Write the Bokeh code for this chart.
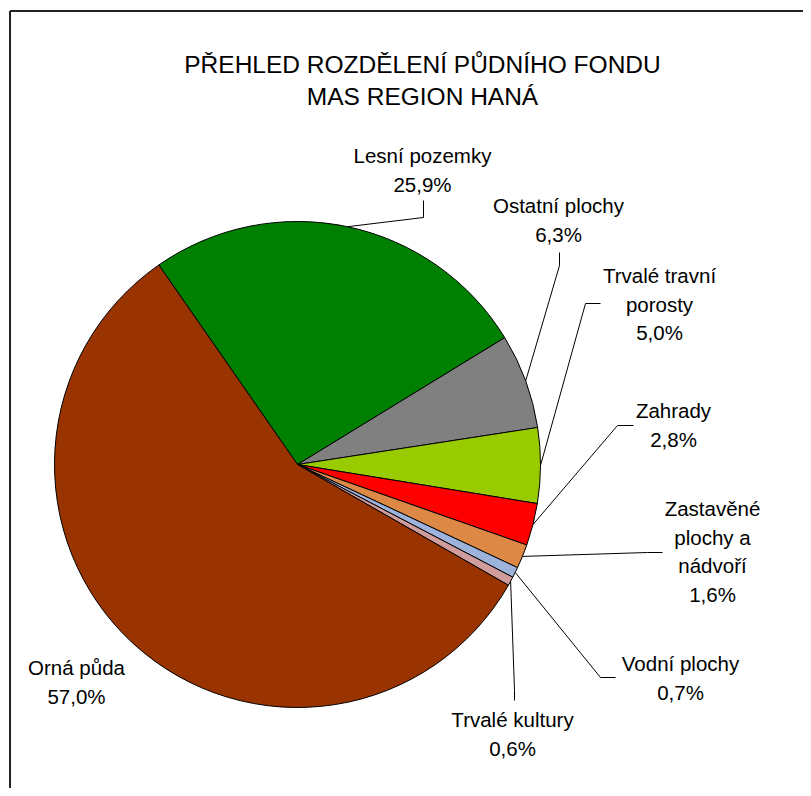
import math
from bokeh.plotting import figure
from bokeh.models import Range1d, ColumnDataSource
from bokeh.core.properties import value
from bokeh.embed import file_html
from bokeh.resources import INLINE

# ---- data ----
categories = ["Lesní pozemky", "Ostatní plochy", "Trvalé travní porosty", "Zahrady",
              "Zastavěné plochy a nádvoří", "Vodní plochy", "Trvalé kultury", "Orná půda"]
shares = [25.9, 6.3, 5.0, 2.8, 1.6, 0.7, 0.6, 57.0]
colors = ["#008000", "#808080", "#99CC00", "#FF0000", "#DD8844", "#9DB3DB", "#D09C9C", "#993300"]
label_lines = [["Lesní pozemky"], ["Ostatní plochy"], ["Trvalé travní", "porosty"], ["Zahrady"],
               ["Zastavěné", "plochy a", "nádvoří"], ["Vodní plochy"], ["Trvalé kultury"], ["Orná půda"]]
title_lines = ["PŘEHLED ROZDĚLENÍ PŮDNÍHO FONDU", "MAS REGION HANÁ"]

# ---- layout (pixel coordinates inside the figure) ----
W, H = 803, 788
def Y(py):
    return H - py

CX, CY, R = 297, Y(464), 243
A0 = math.radians(124.8)
FONT = "Liberation Sans"
LINE_GAP = 28.5
label_x = [422, 558, 659, 673, 712, 680, 512, 76]
label_y0 = [155, 205, 275, 410, 508, 663, 719, 667]
elbows = [[(423, 217), (423, 200)], [(559, 265), (559, 252)], [(585, 303), (600, 303)],
          [(617, 425), (633, 425)], [(647, 552), (662, 552)], [(600, 677), (615, 677)],
          [(514, 690), (514, 700)], None]

p = figure(width=W, height=H, x_range=Range1d(0, W), y_range=Range1d(0, H),
           output_backend="svg", toolbar_location=None, min_border=0)
p.axis.visible = False
p.grid.visible = False
p.outline_line_color = None
p.background_fill_color = "white"
p.border_fill_color = "white"

# frame (top and left edges)
p.line(x=[9.5, W], y=[Y(10.5), Y(10.5)], line_color="#222222", line_width=2)
p.line(x=[9.5, 9.5], y=[Y(10.5), 0], line_color="#222222", line_width=2)

total = sum(shares)
starts, ends, mids = [], [], []
cum = 0.0
for v in shares:
    s = A0 - cum / total * 2 * math.pi
    e = A0 - (cum + v) / total * 2 * math.pi
    starts.append(e)
    ends.append(s)
    mids.append((s + e) / 2)
    cum += v

src = ColumnDataSource(dict(cat=categories, val=shares, start=starts, end=ends, color=colors))
p.wedge(x=CX, y=CY, radius=R, start_angle="start", end_angle="end", fill_color="color",
        line_color="black", line_width=1, source=src)

# leader lines
xs, ys = [], []
for m, el in zip(mids, elbows):
    if el is None:
        continue
    px = [CX + R * math.cos(m)] + [pt[0] for pt in el]
    py = [CY + R * math.sin(m)] + [Y(pt[1]) for pt in el]
    xs.append(px)
    ys.append(py)
p.multi_line(xs=xs, ys=ys, line_color="black", line_width=1)

# labels
tx, ty, tt = [], [], []
for i, (lines, v) in enumerate(zip(label_lines, shares)):
    pct = f"{v:.1f}".replace(".", ",") + "%"
    for j, t in enumerate(lines + [pct]):
        tx.append(label_x[i])
        ty.append(Y(label_y0[i] + j * LINE_GAP))
        tt.append(t)
p.text(x=tx, y=ty, text=tt, text_font=value(FONT), text_font_size="20.5px",
       text_align="center", text_baseline="middle", text_color="black")

# title
p.text(x=[422, 422], y=[Y(63.5), Y(95.5)], text=title_lines, text_font=value(FONT),
       text_font_size="24.5px", text_align="center", text_baseline="middle", text_color="black")

open("out.html", "w").write(file_html(p, INLINE))
